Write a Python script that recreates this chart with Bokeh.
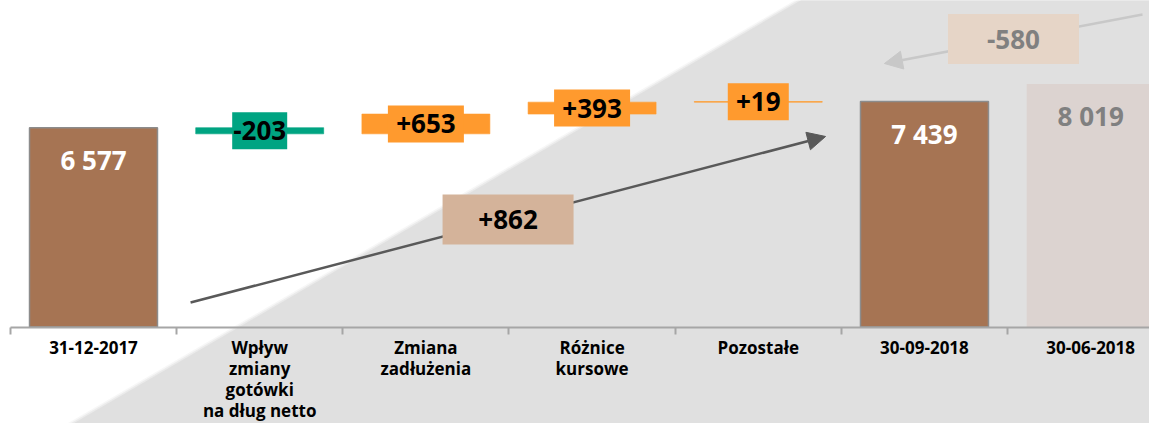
from bokeh.plotting import figure
from bokeh.models import Range1d, LinearAxis, FixedTicker, Arrow, NormalHead, ColumnDataSource
from bokeh.core.properties import value
from bokeh.embed import file_html
from bokeh.resources import INLINE

# ---------------- data ----------------
categories = ["31-12-2017", "Wpływ\nzmiany\ngotówki\nna dług netto", "Zmiana\nzadłużenia",
              "Różnice\nkursowe", "Pozostałe", "30-09-2018", "30-06-2018"]
start_value = 6577
delta_values = [-203, 653, 393, 19]
end_value = 7439
compare_value = 8019
period_change = 862
compare_change = -580

# ---------------- styles ----------------
FONT = value("Open Sans")
BROWN = "#A67453"
GREEN = "#00A482"
ORANGE = "#FF9A2E"
TAN = "#D4B39A"
LIGHT_TAN = "#E6D5C7"
PALE = "#DCD3D0"
BG_GREY = "#E0E0E0"
AXIS_GREY = "#A6A6A6"
BAR_W = 0.77
delta_colors = [GREEN, ORANGE, ORANGE, ORANGE]
delta_box_w = [55, 76, 76, 61]   # label box widths (px)

def fmt_total(v):
    return f"{v:,}".replace(",", " ")

p = figure(width=1149, height=423, output_backend="svg", toolbar_location=None,
           x_axis_type=None, y_axis_type=None, min_border=0,
           x_range=Range1d(-0.0596, 6.854), y_range=Range1d(-3184, 10774))
p.outline_line_color = None
p.grid.visible = False
p.background_fill_color = "white"
p.border_fill_color = "white"

# background diagonal (soft edge)
for dx, a in [(-0.036, 0.25), (-0.018, 0.5), (0.0, 1.0)]:
    p.patch(x=[5.064 + dx, 9.0, 9.0, -0.004 + dx], y=[11764, 11764, -4405, -4405],
            fill_color=BG_GREY, fill_alpha=a, line_color=None)

n = len(categories)
centers = [i + 0.5 for i in range(n)]

# total bars
tot = ColumnDataSource(dict(x=[centers[0], centers[5]], top=[start_value, end_value],
                            label=[fmt_total(start_value), fmt_total(end_value)]))
p.vbar(x="x", top="top", bottom=0, width=BAR_W, source=tot,
       fill_color=BROWN, line_color="#8C8C8C", line_width=1.5)
p.text(x="x", y="top", text="label", source=tot, y_offset=32, text_color="white",
       text_font=FONT, text_font_style="bold", text_font_size="26px",
       text_align="center", text_baseline="middle")

# compare bar
cmp_src = ColumnDataSource(dict(x=[centers[6]], top=[compare_value], label=[fmt_total(compare_value)]))
p.vbar(x="x", top="top", bottom=0, width=BAR_W, source=cmp_src, fill_color=PALE, line_color=None)
p.text(x="x", y="top", text="label", source=cmp_src, y_offset=32, text_color="#808080",
       text_font=FONT, text_font_style="bold", text_font_size="26px",
       text_align="center", text_baseline="middle")

# delta bars
bottoms, tops, mids = [], [], []
level = start_value
for d in delta_values:
    lo, hi = min(level, level + d), max(level, level + d)
    bottoms.append(lo); tops.append(hi); mids.append((lo + hi) / 2)
    level += d
dsrc = ColumnDataSource(dict(x=centers[1:5], bottom=bottoms, top=tops, mid=mids,
                             color=delta_colors, bw=delta_box_w,
                             label=[f"{d:+d}" for d in delta_values]))
p.vbar(x="x", bottom="bottom", top="top", width=BAR_W, source=dsrc,
       fill_color="color", line_color="color", line_width=0.6)
p.rect(x="x", y="mid", width="bw", height=37, width_units="screen", height_units="screen",
       source=dsrc, fill_color="color", line_color=None)
p.text(x="x", y="mid", text="label", source=dsrc, text_color="black",
       text_font=FONT, text_font_style="bold", text_font_size="26px",
       text_align="center", text_baseline="middle")

# change arrows
def change_arrow(x0, y0, x1, y1, color, box_color, text_color, label):
    p.add_layout(Arrow(x_start=x0, y_start=y0, x_end=x1, y_end=y1, line_color=color, line_width=2.5,
                       end=NormalHead(size=18, fill_color=color, line_color=color)))
    mx, my = (x0 + x1) / 2, (y0 + y1) / 2
    r = p.rect(x=[mx], y=[my], width=131, height=50, width_units="screen", height_units="screen",
               fill_color=box_color, line_color=None)
    r.level = "overlay"
    t = p.text(x=[mx], y=[my], text=[label], text_color=text_color,
               text_font=FONT, text_font_style="bold", text_font_size="26px",
               text_align="center", text_baseline="middle")
    t.level = "overlay"

change_arrow(1.084, 808, 4.905, 6287, "#595959", TAN, "black", f"{period_change:+d}")
change_arrow(6.812, 10312, 5.259, 8695, "#C8C8C8", LIGHT_TAN, "#808080", f"{compare_change:+d}")

# axes
tick_axis = LinearAxis(ticker=FixedTicker(ticks=list(range(n + 1))), fixed_location=0,
                       bounds=(0, n), axis_line_color=AXIS_GREY, axis_line_width=2,
                       major_tick_line_color=AXIS_GREY, major_tick_line_width=2,
                       major_tick_in=0, major_tick_out=7, minor_tick_line_color=None,
                       major_label_overrides={i: "" for i in range(n + 1)})
p.add_layout(tick_axis, "below")

label_axis = LinearAxis(ticker=FixedTicker(ticks=centers), fixed_location=0,
                        major_label_overrides={c: cat for c, cat in zip(centers, categories)},
                        axis_line_color=None, major_tick_line_color=None, minor_tick_line_color=None,
                        major_label_standoff=3, major_label_text_font="Open Sans",
                        major_label_text_font_style="bold", major_label_text_font_size="17px",
                        major_label_text_color="black", major_label_text_line_height=0.92)
p.add_layout(label_axis, "below")

open("out.html", "w").write(file_html(p, INLINE))
